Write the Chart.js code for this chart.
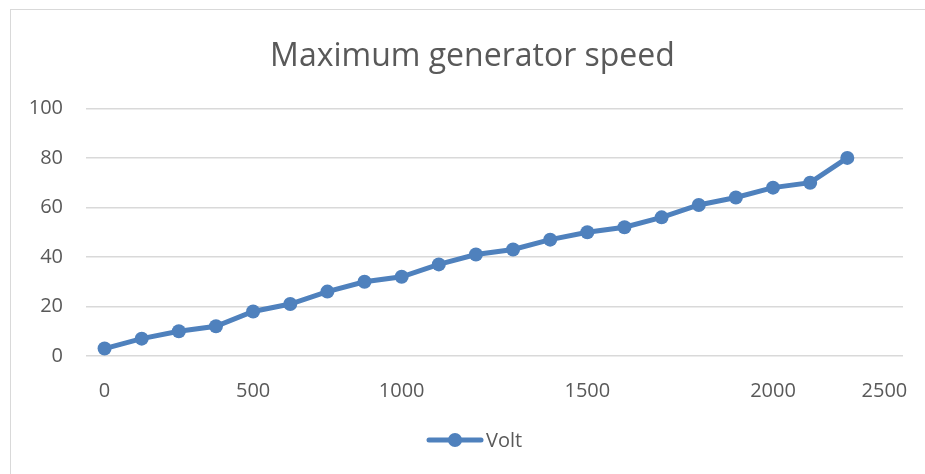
<!DOCTYPE html>
<html>
<head>
<meta charset="utf-8">
<script src="https://cdn.jsdelivr.net/npm/chart.js@4.4.0/dist/chart.umd.min.js"></script>
<style>
  body { margin: 0; background: #fff; overflow: hidden; }
  #wrap { position: relative; width: 925px; height: 474px; overflow: hidden; }
  #frame { position: absolute; left: 10px; top: 9px; right: 0; bottom: 0; border-top: 1px solid #d9d9d9; border-left: 1px solid #d9d9d9; pointer-events: none; }
  canvas { position: absolute; left: 0; top: 0; }
</style>
</head>
<body>
<div id="wrap">
  <canvas id="linegraph" width="925" height="474"></canvas>
  <div id="frame"></div>
</div>
<script>
// x categories (only some carry a printed label)
var categories = ['0', '', '', '', '500', '', '', '', '1000', '', '', '', '', '1500', '', '', '', '', '2000', '', '', '2500'];
var volt = [3, 7, 10, 12, 18, 21, 26, 30, 32, 37, 41, 43, 47, 50, 52, 56, 61, 64, 68, 70, 80];
var yTicks = [0, 20, 40, 60, 80, 100];

var blue = '#4f81bd';
var grey = '#595959';
var font = 'Open Sans';

// legend drawn by hand: line with a round marker, then the series name
var legendLine = {
    id: 'legendLine',
    afterDraw: function (chart) {
        var c = chart.ctx;
        var ds = chart.data.datasets[0];
        var y = 440;
        c.save();
        c.strokeStyle = blue;
        c.lineWidth = 5;
        c.lineCap = 'round';
        c.beginPath();
        c.moveTo(429, y);
        c.lineTo(481, y);
        c.stroke();
        c.fillStyle = blue;
        c.beginPath();
        c.arc(455, y, 7, 0, Math.PI * 2);
        c.fill();
        c.fillStyle = grey;
        c.font = '20px "' + font + '"';
        c.textBaseline = 'middle';
        c.fillText(ds.label, 486, y + 1);
        c.restore();
    }
};

var ctx = document.getElementById('linegraph').getContext('2d');
var chart = new Chart(ctx, {
    type: 'line',
    data: {
        labels: categories,
        datasets: [{
            label: 'Volt',
            data: volt,
            borderColor: blue,
            backgroundColor: blue,
            borderWidth: 5,
            pointRadius: 7,
            pointBorderWidth: 0,
            pointBackgroundColor: blue,
            tension: 0,
            fill: false
        }]
    },
    options: {
        responsive: false,
        animation: false,
        layout: { padding: { left: 20, right: 0, top: 0, bottom: 0 } },
        plugins: {
            title: {
                display: true,
                text: 'Maximum generator speed',
                color: grey,
                font: { family: font, size: 32, weight: '400' },
                padding: { top: 38, bottom: 32 }
            },
            legend: { display: false },
            tooltip: { enabled: false }
        },
        scales: {
            x: {
                offset: true,
                grid: { display: false, drawTicks: false },
                border: { display: false },
                ticks: {
                    color: grey,
                    font: { family: font, size: 20 },
                    autoSkip: false,
                    maxRotation: 0,
                    padding: 23
                },
                afterFit: function (s) {
                    s.height = 118;
                    s.paddingLeft = 0;
                    s.paddingRight = 0;
                }
            },
            y: {
                min: 0,
                max: 100,
                afterBuildTicks: function (s) { s.ticks = yTicks.map(function (v) { return { value: v }; }); },
                grid: { color: '#d9d9d9', lineWidth: 1.5, drawTicks: false },
                border: { display: false },
                ticks: {
                    color: grey,
                    font: { family: font, size: 20 },
                    padding: 23
                },
                afterFit: function (s) { s.width = 66; }
            },
            // empty right-hand axis, only keeps the plot clear of the right edge
            yRight: {
                position: 'right',
                display: true,
                grid: { display: false, drawTicks: false },
                border: { display: false },
                ticks: { display: false },
                afterFit: function (s) { s.width = 22; }
            }
        }
    },
    plugins: [legendLine]
});
</script>
</body>
</html>
